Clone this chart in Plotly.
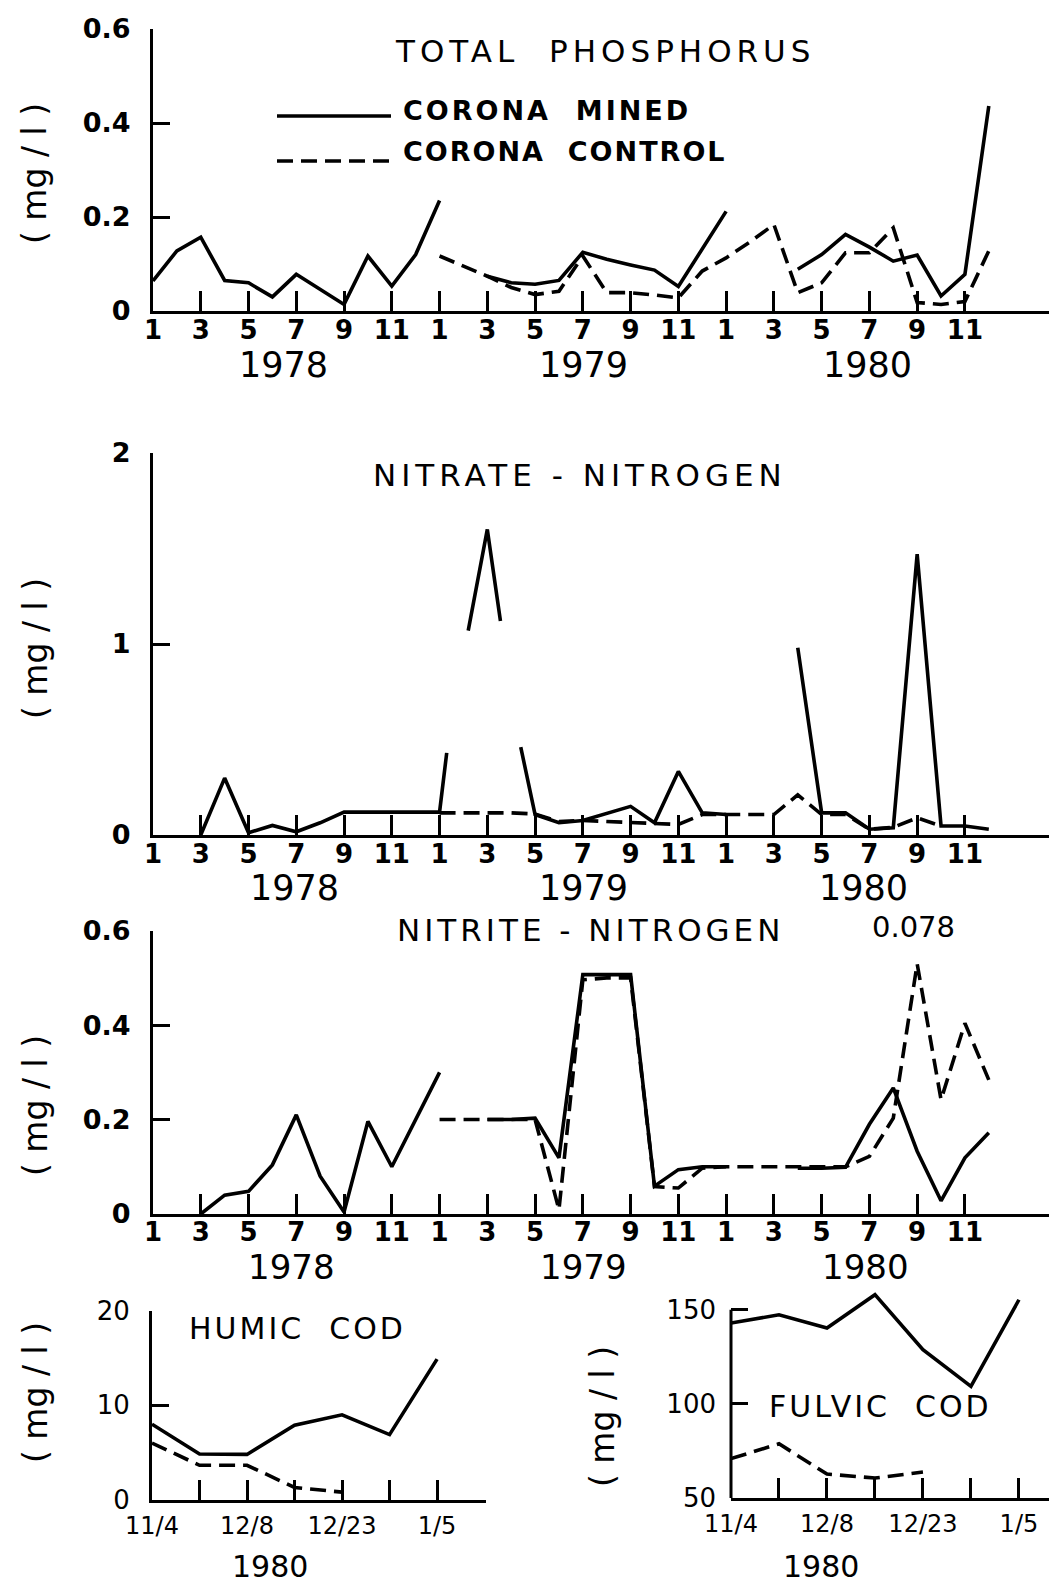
import plotly.graph_objects as go

# ---------------- data ----------------
# month index: 0 = Jan 1978 ... 35 = Dec 1980
month_ticktext = ["1", "3", "5", "7", "9", "11"] * 3
years = ["1978", "1979", "1980"]

# Total phosphorus (mg/l)
tp_mined_x = [0, 1, 2, 3, 4, 5, 6, 7, 8, 9, 10, 11, 12, None,
              14, 15, 16, 17, 18, 19, 20, 21, 22, 24, None,
              27, 28, 29, 30, 31, 32, 33, 34, 35]
tp_mined_y = [0.064, 0.128, 0.157, 0.065, 0.060, 0.030, 0.078, 0.046, 0.014, 0.117, 0.053, 0.120, 0.235, None,
              0.074, 0.060, 0.057, 0.065, 0.125, 0.110, 0.098, 0.087, 0.052, 0.212, None,
              0.089, 0.120, 0.163, 0.136, 0.106, 0.119, 0.032, 0.078, 0.436]
tp_control_x = [12, 14, 15, 16, 17, 18, 19, 20, 21, 22, 23, 24, 25, 26, 27, 28, 29, 30, 31, 32, 33, 34, 35]
tp_control_y = [0.117, 0.074, 0.050, 0.035, 0.042, 0.117, 0.039, 0.039, 0.034, 0.028, 0.085, 0.113, 0.147,
                0.184, 0.039, 0.060, 0.124, 0.124, 0.177, 0.018, 0.014, 0.020, 0.128]

# Nitrate-nitrogen (mg/l)
no3_mined_x = [2, 3, 4, 5, 6, 7, 8, 9, 10, 11, 12, 12.3, None,
               13.2, 14, 14.55, None, 15.4, 16, 17, 18, 20, 21, 22, 23, 24, None,
               27, 28, 29, 30, 31, 32, 33, 34, 35]
no3_mined_y = [0.0, 0.298, 0.012, 0.050, 0.017, 0.064, 0.120, 0.120, 0.120, 0.120, 0.120, 0.43, None,
               1.07, 1.60, 1.12, None, 0.46, 0.107, 0.064, 0.076, 0.150, 0.064, 0.333, 0.116, 0.107, None,
               0.98, 0.116, 0.116, 0.030, 0.038, 1.47, 0.047, 0.047, 0.030]
no3_control_x = [12, 13, 14, 15, 16, 17, 18, 19, 20, 21, 22, 23, 24, 25, 26, 27, 28, 29, 30, 31, 32, 33]
no3_control_y = [0.116, 0.116, 0.116, 0.116, 0.110, 0.070, 0.076, 0.070, 0.064, 0.060, 0.055, 0.107,
                 0.107, 0.107, 0.107, 0.210, 0.107, 0.107, 0.030, 0.040, 0.090, 0.047]

# Nitrite-nitrogen (mg/l)
no2_mined_x = [2, 3, 4, 5, 6, 7, 8, 9, 10, 11, 12, None,
               14, 15, 16, 17, 18, 19, 20, 21, 22, 23, 24, None,
               27, 28, 29, 30, 31, 32, 33, 34, 35]
no2_mined_y = [0.0, 0.040, 0.048, 0.104, 0.210, 0.080, 0.004, 0.196, 0.100, 0.200, 0.300, None,
               0.200, 0.200, 0.203, 0.119, 0.507, 0.507, 0.507, 0.059, 0.094, 0.100, 0.100, None,
               0.097, 0.097, 0.099, 0.190, 0.267, 0.133, 0.028, 0.119, 0.172]
no2_control_x = [12, 13, 14, 15, 16, 17, 18, 19, 20, 21, 22, 23, 24, 25, 26, 27, 28, 29, 30, 31, 32, 33, 34, 35]
no2_control_y = [0.200, 0.200, 0.200, 0.200, 0.200, 0.009, 0.496, 0.500, 0.500, 0.058, 0.055, 0.097,
                 0.100, 0.100, 0.100, 0.100, 0.100, 0.100, 0.122, 0.203, 0.530, 0.242, 0.404, 0.284]

# COD sampling dates (Nov 1980 - Jan 1981)
cod_ticktext = ["11/4", "", "12/8", "", "12/23", "", "1/5"]
humic_mined = [8.0, 4.85, 4.8, 7.9, 9.0, 6.9, 14.9]
humic_control = [6.0, 3.65, 3.65, 1.3, 0.8]
fulvic_mined = [142.9, 147.3, 140.3, 158.0, 128.8, 109.3, 155.3]
fulvic_control = [70.9, 78.8, 62.7, 60.6, 63.8]

# ---------------- layout helpers ----------------
W, H = 1057, 1583
def px(x): return x / W
def py(y): return 1 - y / H

LW = 3.6
DASH = "16px,8px"
FONT = "DejaVu Sans"

fig = go.Figure()

def add(xs, ys, n, dashed):
    fig.add_trace(go.Scatter(
        x=xs, y=ys, mode="lines", xaxis=f"x{n}" if n > 1 else "x", yaxis=f"y{n}" if n > 1 else "y",
        line=dict(color="black", width=LW, dash=DASH if dashed else "solid"),
        connectgaps=False, showlegend=False, hoverinfo="skip"))

add(tp_mined_x, tp_mined_y, 1, False)
add(tp_control_x, tp_control_y, 1, True)
add(no3_mined_x, no3_mined_y, 2, False)
add(no3_control_x, no3_control_y, 2, True)
add(no2_mined_x, no2_mined_y, 3, False)
add(no2_control_x, no2_control_y, 3, True)
add(list(range(len(humic_mined))), humic_mined, 4, False)
add(list(range(len(humic_control))), humic_control, 4, True)
add(list(range(len(fulvic_mined))), fulvic_mined, 5, False)
add(list(range(len(fulvic_control))), fulvic_control, 5, True)

month_tickvals = list(range(0, 36, 2))
xr_month = [0, (W - 145) / 23.88]

def tfont(size, bold):
    return dict(family=FONT, size=size, color="black", weight="bold" if bold else "normal")

def xax(domain, rng, tickvals, ticktext, fsize, bold, standoff):
    return dict(domain=domain, range=rng, showline=True, linecolor="black", linewidth=3,
                ticks="inside", ticklen=20, tickwidth=3, tickcolor="black",
                tickvals=tickvals, ticktext=ticktext, showgrid=False, zeroline=False,
                automargin=False, ticklabelstandoff=standoff, tickfont=tfont(fsize, bold))

def yax(domain, rng, tickvals, ticktext, fsize, bold, anchor, showline=True):
    return dict(domain=domain, range=rng, showline=showline, linecolor="black", linewidth=3,
                ticks="inside", ticklen=17, tickwidth=3, tickcolor="black",
                tickvals=tickvals, ticktext=ticktext, showgrid=False, zeroline=False,
                automargin=False, anchor=anchor, ticklabelstandoff=14, tickfont=tfont(fsize, bold))

fig.update_layout(
    width=W, height=H, margin=dict(l=0, r=0, t=0, b=0),
    paper_bgcolor="white", plot_bgcolor="white", showlegend=False,
    xaxis=xax([px(145), 1], xr_month, month_tickvals, month_ticktext, 26, True, -6) | dict(anchor="y"),
    yaxis=yax([py(303), py(21)], [0, 0.6], [0, 0.2, 0.4, 0.6], ["0", "0.2", "0.4", "0.6"], 27, True, "x"),
    xaxis2=xax([px(145), 1], xr_month, month_tickvals, month_ticktext, 26, True, -6) | dict(anchor="y2"),
    yaxis2=yax([py(827), py(445)], [0, 2], [0, 1, 2], ["0", "1", "2"], 27, True, "x2"),
    xaxis3=xax([px(145), 1], xr_month, month_tickvals, month_ticktext, 26, True, -7) | dict(anchor="y3"),
    yaxis3=yax([py(1206), py(922.7)], [0, 0.6], [0, 0.2, 0.4, 0.6], ["0", "0.2", "0.4", "0.6"], 27, True, "x3"),
    xaxis4=xax([px(144), px(478)], [0, 7.03], list(range(7)), cod_ticktext, 24, False, 2) | dict(anchor="y4"),
    yaxis4=yax([py(1491.7), py(1303)], [0, 20], [0, 10, 20], ["0", "10", "20"], 26, False, "x4"),
    xaxis5=xax([px(723), 1], [0, 6.96], list(range(7)), cod_ticktext, 24, False, 2) | dict(anchor="y5"),
    yaxis5=yax([py(1490), py(1282.9)], [50, 160], [50, 100, 150], ["50", "100", "150"], 26, False, "x5",
               showline=False),
)

# fulvic y-axis line only up to the 150 tick
fig.add_shape(type="line", xref="x5 domain", yref="y5", x0=0, x1=0, y0=50, y1=150,
              line=dict(color="black", width=3))

def note(text, x, y, size, bold=False, ls=0, xanchor="center", angle=0):
    t = f'<span style="letter-spacing:{ls}px">{text}</span>' if ls else text
    fig.add_annotation(text=t, x=px(x), y=py(y), xref="paper", yref="paper", showarrow=False,
                       xanchor=xanchor, yanchor="middle", textangle=angle, font=tfont(size, bold))

# titles
note("TOTAL  PHOSPHORUS", 597, 43, 31, ls=5)
note("NITRATE - NITROGEN", 572, 467, 31, ls=5)
note("NITRITE - NITROGEN", 582, 922, 31, ls=4)
note("0.078", 905, 919, 29)
note("HUMIC  COD", 289, 1320, 30, ls=3)
note("FULVIC  COD", 872, 1398, 30, ls=3)

# legend
fig.add_shape(type="line", xref="paper", yref="paper", x0=px(269), x1=px(383), y0=py(108), y1=py(108),
              line=dict(color="black", width=LW))
fig.add_shape(type="line", xref="paper", yref="paper", x0=px(269), x1=px(383), y0=py(153), y1=py(153),
              line=dict(color="black", width=LW, dash=DASH))
note("CORONA  MINED", 393, 102, 27, bold=True, ls=3, xanchor="left")
note("CORONA  CONTROL", 393, 144, 27, bold=True, ls=2, xanchor="left")

# year labels
for yr, x in zip(years, [275, 575, 859]):
    note(yr, x, 357, 35)
for yr, x in zip(years, [286, 575, 855]):
    note(yr, x, 880, 35)
for yr, x in zip(years, [283, 575, 857]):
    note(yr, x, 1259, 34)
note("1980", 262, 1558, 30)
note("1980", 813, 1558, 30)

# y-axis titles
for x, y in [(27, 166), (27, 641), (27, 1098), (27, 1385), (594, 1409)]:
    note("( mg / l )", x, y, 33, angle=-90)

fig.write_html("out.html")
